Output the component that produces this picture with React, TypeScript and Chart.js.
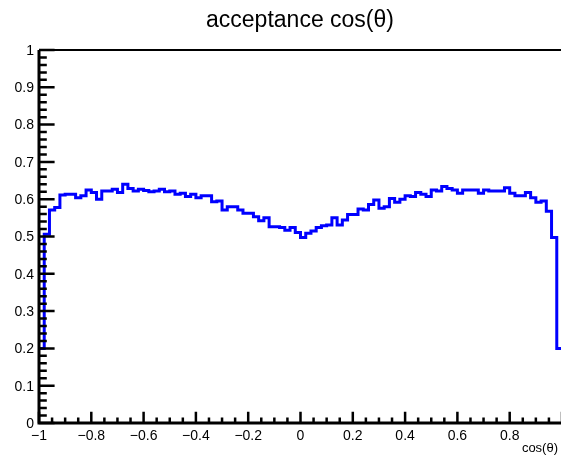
import React, { useEffect, useRef } from "react";
import { Chart, registerables } from "chart.js";

Chart.register(...registerables);

const X_MIN = -1;
const X_MAX = 1;

const acceptance = [
  0.2, 0.506, 0.571, 0.578, 0.611, 0.613, 0.613, 0.604, 0.609, 0.625,
  0.618, 0.6, 0.622, 0.622, 0.627, 0.618, 0.64, 0.629, 0.622, 0.627,
  0.623, 0.62, 0.622, 0.627, 0.62, 0.622, 0.613, 0.616, 0.607, 0.613,
  0.604, 0.609, 0.609, 0.593, 0.595, 0.571, 0.58, 0.58, 0.571, 0.562,
  0.562, 0.553, 0.542, 0.55, 0.526, 0.526, 0.524, 0.517, 0.524, 0.511,
  0.497, 0.509, 0.515, 0.524, 0.529, 0.531, 0.55, 0.531, 0.544, 0.559,
  0.559, 0.574, 0.571, 0.586, 0.598, 0.576, 0.58, 0.602, 0.592, 0.6,
  0.609, 0.607, 0.618, 0.613, 0.607, 0.625, 0.622, 0.634, 0.629, 0.625,
  0.616, 0.625, 0.625, 0.625, 0.616, 0.625, 0.622, 0.622, 0.622, 0.631,
  0.616, 0.609, 0.609, 0.618, 0.604, 0.592, 0.595, 0.568, 0.497, 0.2,
];

const yMajorTicks = [0, 0.1, 0.2, 0.3, 0.4, 0.5, 0.6, 0.7, 0.8, 0.9, 1];
const yMajorLabels = ["0", "0.1", "0.2", "0.3", "0.4", "0.5", "0.6", "0.7", "0.8", "0.9", "1"];
const yMinorStep = 0.02;

const xMajorTicks = [-1, -0.8, -0.6, -0.4, -0.2, 0, 0.2, 0.4, 0.6, 0.8, 1];
const xMajorLabels = ["\u22121", "\u22120.8", "\u22120.6", "\u22120.4", "\u22120.2", "0", "0.2", "0.4", "0.6", "0.8", ""];
const xMinorStep = 0.05;

const titleText = "acceptance cos(\u03b8)";
const xTitleText = "cos(\u03b8)";

const W = 564;
const H = 461;
const FONT = "'Liberation Sans', Arial, Helvetica, sans-serif";

const rootFrame = {
  id: "rootFrame",
  afterDatasetsDraw(chart: any) {
    const { ctx, chartArea: a, scales } = chart;
    const xs = scales.x;
    const ys = scales.y;
    ctx.save();
    ctx.strokeStyle = "#000";
    ctx.fillStyle = "#000";
    ctx.lineCap = "butt";

    // frame
    ctx.lineWidth = 2;
    ctx.beginPath();
    ctx.moveTo(a.left, a.top);
    ctx.lineTo(a.right, a.top);
    ctx.lineTo(a.right, a.bottom);
    ctx.stroke();
    ctx.lineWidth = 3;
    ctx.beginPath();
    ctx.moveTo(a.left, a.top);
    ctx.lineTo(a.left, a.bottom);
    ctx.lineTo(a.right, a.bottom);
    ctx.stroke();

    // y ticks
    ctx.lineWidth = 2.5;
    ctx.beginPath();
    const yMin = yMajorTicks[0];
    const yMax = yMajorTicks[yMajorTicks.length - 1];
    for (let v = yMin; v <= yMax + 1e-9; v += yMinorStep) {
      const py = ys.getPixelForValue(v);
      const isMajor = yMajorTicks.some((t) => Math.abs(t - v) < 1e-6);
      ctx.moveTo(a.left, py);
      ctx.lineTo(a.left + (isMajor ? 15.6 : 7.8), py);
    }
    // x ticks
    const xMin = xMajorTicks[0];
    const xMax = xMajorTicks[xMajorTicks.length - 1];
    for (let v = xMin; v <= xMax + 1e-9; v += xMinorStep) {
      const px = xs.getPixelForValue(v);
      const isMajor = xMajorTicks.some((t) => Math.abs(t - v) < 1e-6);
      ctx.moveTo(px, a.bottom);
      ctx.lineTo(px, a.bottom - (isMajor ? 11.2 : 5.6));
    }
    ctx.stroke();

    // labels
    ctx.font = `14px ${FONT}`;
    ctx.textAlign = "right";
    ctx.textBaseline = "middle";
    yMajorTicks.forEach((t, i) => {
      ctx.fillText(yMajorLabels[i], a.left - 5, ys.getPixelForValue(t) + 1);
    });
    ctx.textAlign = "center";
    ctx.textBaseline = "alphabetic";
    xMajorTicks.forEach((t, i) => {
      if (xMajorLabels[i]) ctx.fillText(xMajorLabels[i], xs.getPixelForValue(t), a.bottom + 17);
    });

    // axis title
    ctx.font = `13px ${FONT}`;
    ctx.textAlign = "right";
    ctx.fillText(xTitleText, 558, 452);

    // title
    ctx.font = `23px ${FONT}`;
    ctx.textAlign = "center";
    ctx.fillText(titleText, 300, 27);
    ctx.restore();
  },
};

export default function App() {
  const ref = useRef<HTMLCanvasElement | null>(null);
  useEffect(() => {
    document.body.style.margin = "0";
    document.body.style.overflow = "hidden";
    const canvas = ref.current;
    if (!canvas) return;
    const n = acceptance.length;
    const points = acceptance.map((v, i) => ({ x: X_MIN + ((X_MAX - X_MIN) * i) / n, y: v }));
    points.push({ x: X_MAX, y: acceptance[n - 1] });
    const chart = new Chart(canvas, {
      type: "line",
      data: {
        datasets: [
          {
            data: points,
            stepped: "before",
            borderColor: "#0000ff",
            borderWidth: 3,
            pointRadius: 0,
            fill: false,
          },
        ],
      },
      options: {
        responsive: false,
        animation: false,
        devicePixelRatio: 1,
        layout: { padding: { left: 39, right: W - 562, top: 50, bottom: H - 423 } },
        plugins: { legend: { display: false }, tooltip: { enabled: false }, title: { display: false } },
        scales: {
          x: { type: "linear", min: X_MIN, max: X_MAX, display: false },
          y: { type: "linear", min: 0, max: 1, display: false },
        },
      },
      plugins: [rootFrame],
    });
    return () => chart.destroy();
  }, []);
  return (
    <div style={{ position: "absolute", left: 0, top: 0, width: W, height: H, background: "#fff" }}>
      <canvas ref={ref} width={W} height={H} style={{ display: "block" }} />
    </div>
  );
}
